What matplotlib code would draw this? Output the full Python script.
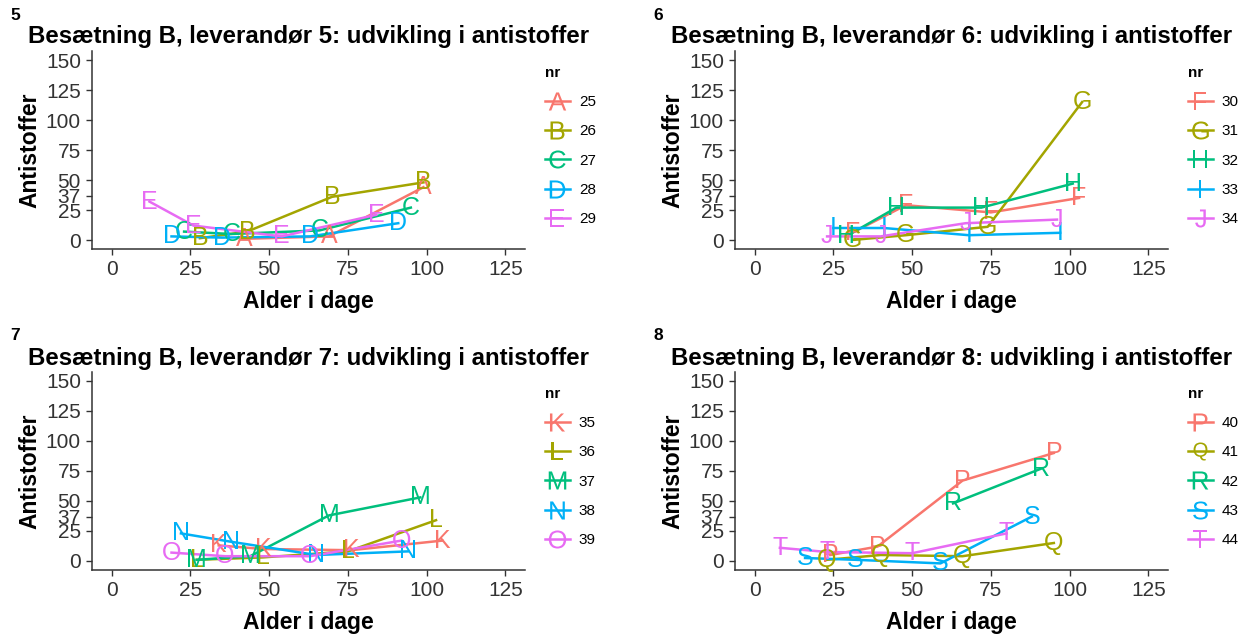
import numpy as np
import matplotlib
import matplotlib.pyplot as plt
from matplotlib.lines import Line2D

plt.rcParams['font.family'] = ['Liberation Sans', 'DejaVu Sans']
plt.rcParams['mathtext.fontset'] = 'custom'
plt.rcParams['mathtext.sf'] = 'Liberation Sans'
plt.rcParams['mathtext.rm'] = 'Liberation Sans'

# ---- data: alder (dage) and antistoffer per dyr ----
# leverandør 5
x25 = [42, 69, 99];        y25 = [1, 3, 44]
x26 = [28, 43, 70, 99];    y26 = [1.5, 7, 36, 48]
x27 = [23, 38, 66, 95];    y27 = [7, 5, 8, 27]
x28 = [19, 35, 63, 91];    y28 = [3, 2, 3, 14]
x29 = [12, 26, 54, 84];    y29 = [32, 12, 3, 21]
# leverandør 6
x30 = [31, 48, 75, 103];   y30 = [6, 29, 23, 35]
x31 = [31, 48, 74, 104];   y31 = [0, 4, 11, 115]
x32 = [29, 45, 72, 101];   y32 = [3, 27, 27, 47]
x33 = [25, 41, 68, 97];    y33 = [10, 10, 4, 6]
x34 = [23, 40, 67, 96];    y34 = [3, 3, 14, 17]
# leverandør 7
x35 = [34, 48, 76, 105];   y35 = [13, 10, 9, 17]
x36 = [27, 48, 75, 103];   y36 = [1, 3, 8, 34]
x37 = [27, 44, 69, 98];    y37 = [1, 4, 38, 53]
x38 = [22, 38, 65, 94];    y38 = [23, 16, 5, 8]
x39 = [19, 36, 63, 92];    y39 = [7, 4, 4, 17]
# leverandør 8
x40 = [24, 39, 66, 95];    y40 = [5, 12, 67, 90]
x41 = [23, 40, 66, 95];    y41 = [1, 5, 4, 15]
x42 = [63, 91];            y42 = [48, 77]
x43 = [16, 32, 59, 88];    y43 = [2.5, 1, -2, 37]
x44 = [8, 23, 50, 80];     y44 = [11, 7.5, 6.5, 23]

letters = ['A', 'B', 'C', 'D', 'E', 'F', 'G', 'H', 'I', 'J',
           'K', 'L', 'M', 'N', 'O', 'P', 'Q', 'R', 'S', 'T']
nr = list(range(25, 45))
leverandor = [5, 6, 7, 8]

yticks = [0, 25, 37, 50, 75, 100, 125, 150]
xticks = [0, 25, 50, 75, 100, 125]

series = {
    25: (x25, y25), 26: (x26, y26), 27: (x27, y27), 28: (x28, y28), 29: (x29, y29),
    30: (x30, y30), 31: (x31, y31), 32: (x32, y32), 33: (x33, y33), 34: (x34, y34),
    35: (x35, y35), 36: (x36, y36), 37: (x37, y37), 38: (x38, y38), 39: (x39, y39),
    40: (x40, y40), 41: (x41, y41), 42: (x42, y42), 43: (x43, y43), 44: (x44, y44),
}
colors = ['#F8766D', '#A3A500', '#00BF7D', '#00B0F6', '#E76BF3']

W, H = 1253, 639
fig = plt.figure(figsize=(W / 100, H / 100), dpi=100)

# panel pixel boxes: left, top of axes
boxes = [(92, 51), (735, 51), (92, 372), (735, 372)]
aw, ah = 433, 198

for p, lev in enumerate(leverandor):
    left, top = boxes[p]
    ax = fig.add_axes([left / W, 1 - (top + ah) / H, aw / W, ah / H])
    handles = []
    for k in range(5):
        n = nr[p * 5 + k]
        let = letters[p * 5 + k]
        xs, ys = series[n]
        c = colors[k]
        ax.plot(xs, ys, color=c, lw=1.8, zorder=2)
        for xv, yv in zip(xs, ys):
            ax.text(xv, yv, let, color=c, fontsize=18, ha='center', va='center',
                    zorder=3)
        handles.append(Line2D([], [], color=c, lw=1.8,
                              marker='$\\mathsf{' + let + '}$', markersize=13,
                              markeredgewidth=0, label=str(n)))
    ax.set_xlim(-6.25, 131.25)
    ax.set_ylim(-7.5, 157.5)
    ax.set_xticks(xticks)
    ax.set_yticks(yticks)
    ax.set_yticklabels([str(v) for v in yticks])
    ax.tick_params(labelsize=15, colors='#333333', length=4, width=1,
                   pad=4)
    for s in ['top', 'right']:
        ax.spines[s].set_visible(False)
    for s in ['left', 'bottom']:
        ax.spines[s].set_color('#333333')
        ax.spines[s].set_linewidth(1.1)
    ax.set_xlabel('Alder i dage', fontsize=16.5, fontweight='bold', labelpad=8)
    ax.set_ylabel('Antistoffer', fontsize=16.5, fontweight='bold', labelpad=3)

    leg = ax.legend(handles=handles, title='nr', loc='upper left',
                    bbox_to_anchor=(1.015, 0.995), frameon=False, fontsize=11,
                    title_fontproperties={'weight': 'bold', 'size': 11},
                    alignment='left', handlelength=1.6, labelspacing=1.0,
                    handletextpad=0.6)

    fig.text((left - 82) / W, 1 - (top - 36) / H, str(lev), fontsize=12.5,
             fontweight='bold', ha='left', va='center')
    fig.text((left - 64) / W, 1 - (top - 14) / H,
             'Besætning B, leverandør ' + str(lev) + ': udvikling i antistoffer',
             fontsize=17.3, fontweight='bold', ha='left', va='center')

fig.savefig('out.png', dpi=100)
